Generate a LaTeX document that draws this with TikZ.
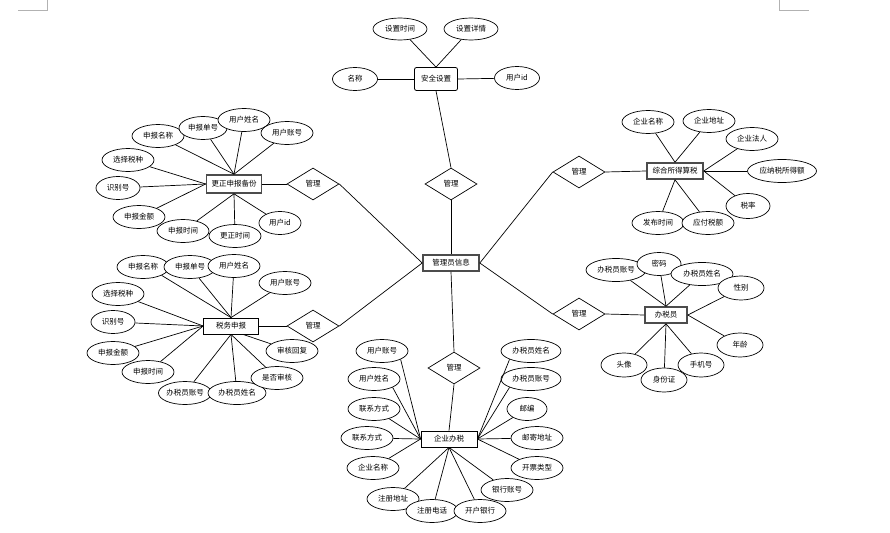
\documentclass[tikz,border=0pt]{standalone}
\usepackage{fontspec}
\setmainfont{Noto Sans CJK SC}
\usetikzlibrary{shapes.geometric}

\tikzset{
  attr/.style={ellipse,draw,line width=0.7pt,fill=white,inner sep=0pt,minimum width=52pt,minimum height=23pt},
  ent/.style={draw,line width=0.8pt,fill=white,inner sep=0pt,minimum width=56pt,minimum height=16pt},
  bent/.style={ent,draw=black!70,line width=1.6pt},
  rel/.style={diamond,draw,line width=0.7pt,fill=white,inner sep=0pt,minimum width=52pt,minimum height=32pt},
  link/.style={line width=0.7pt}
}

\begin{document}
\begin{tikzpicture}[x=1pt,y=-1pt,font=\fontsize{7.5}{9}\selectfont,every edge/.style={draw,link}]
  \useasboundingbox (0,0) rectangle (890,532);
  % page corner marks
  \draw[black!30] (18,10) -- (47,10) -- (47,0);
  \draw[black!30] (779,0) -- (779,10) -- (809,10);

  % centre
  \node[bent] at (451,263) (admin) {管理员信息};
  \node[rel] at (451,184) (m1) {管理};
  \node[rel] at (313,184) (m2) {管理};
  \node[rel] at (313,326) (m3) {管理};
  \node[rel] at (579,172) (m4) {管理};
  \node[rel] at (579,314) (m5) {管理};
  \node[rel] at (454,368) (m6) {管理};

  % 安全设置
  \node[ent,rounded corners=2pt,minimum width=43pt,minimum height=23pt] at (436,79) (aq) {安全设置};
  \node[attr,minimum width=54pt,minimum height=22pt] at (400,29) (aq1) {设置时间};
  \node[attr,minimum width=54pt,minimum height=22pt] at (471,29) (aq2) {设置详情};
  \node[attr,minimum width=45pt] at (355,79) (aq3) {名称};
  \node[attr,minimum width=45pt] at (517,78) (aq4) {用户id};
  \path (aq.north) edge (aq1) edge (aq2);
  \path (aq.west) edge (aq3);
  \path (aq.east) edge (aq4);
  \path (aq.south) edge (m1.north);
  \path (m1.south) edge (admin.north);

  % 更正申报备份
  \node[bent,minimum width=55pt,minimum height=18pt] at (234,184) (gz) {更正申报备份};
  \node[attr] at (158,136) (a1) {申报名称};
  \node[attr,minimum width=48pt] at (203,128) (a2) {申报单号};
  \node[attr] at (244,120) (a3) {用户姓名};
  \node[attr] at (287,133) (a4) {用户账号};
  \node[attr] at (128,160) (a5) {选择税种};
  \node[attr,minimum width=44pt] at (118,188) (a6) {识别号};
  \node[attr] at (139,217) (a7) {申报金额};
  \node[attr] at (183,231) (a8) {申报时间};
  \node[attr] at (235,236) (a9) {更正时间};
  \node[attr,minimum width=42pt] at (280,223) (a10) {用户id};
  \path (gz.north) edge (a1) edge (a2) edge (a3) edge (a4);
  \path (gz.west) edge (a5) edge (a6) edge (a7);
  \path (gz.south) edge (a8) edge (a9) edge (a10);
  \path (gz.east) edge (m2.west);
  \path (m2.east) edge (admin.west);

  % 税务申报
  \node[ent,minimum width=55pt] at (231,326) (sw) {税务申报};
  \node[attr] at (143,267) (b1) {申报名称};
  \node[attr] at (190,267) (b2) {申报单号};
  \node[attr] at (234,266) (b3) {用户姓名};
  \node[attr] at (285,283) (b4) {用户账号};
  \node[attr] at (118,294) (b5) {选择税种};
  \node[attr,minimum width=44pt] at (113,322) (b6) {识别号};
  \node[attr] at (113,353) (b7) {申报金额};
  \node[attr] at (148,372) (b8) {申报时间};
  \node[attr] at (185,393) (b9) {办税员账号};
  \node[attr,minimum width=58pt] at (237,393) (b10) {办税员姓名};
  \node[attr] at (277,378) (b11) {是否审核};
  \node[attr] at (292,351) (b12) {审核回复};
  \path (sw.north) edge (b1.south east) edge (b2) edge (b3) edge (b4);
  \path (sw.west) edge (b5) edge (b6) edge (b7) edge (b8);
  \path (sw.south) edge (b9) edge (b10) edge (b11);
  \path ([xshift=12pt]sw.south) edge (b12);
  \path (sw.east) edge (m3.west);
  \path (m3.east) edge (admin.west);

  % 综合所得算税
  \node[bent] at (675,171) (zh) {综合所得算税};
  \node[attr] at (648,122) (c1) {企业名称};
  \node[attr] at (709,121) (c2) {企业地址};
  \node[attr] at (752,139) (c3) {企业法人};
  \node[attr,minimum width=69pt] at (782,171) (c4) {应纳税所得额};
  \node[attr,minimum width=44pt,minimum height=25pt] at (748,206) (c5) {税率};
  \node[attr] at (658,223) (c6) {发布时间};
  \node[attr] at (708,223) (c7) {应付税额};
  \path (zh.north) edge (c1) edge (c2);
  \path (zh.east) edge (c3) edge (c4) edge (c5);
  \path (zh.south) edge (c6) edge (c7);
  \path (admin.east) edge (m4.west);
  \path (m4.east) edge (zh.west);

  % 办税员
  \node[bent,minimum width=42pt] at (666,315) (bs) {办税员};
  \node[attr,minimum width=60pt] at (616,270) (d1) {办税员账号};
  \node[attr,minimum width=44pt] at (659,264) (d2) {密码};
  \node[attr,minimum width=62pt] at (702,274) (d3) {办税员姓名};
  \node[attr,minimum width=46pt,minimum height=24pt] at (741,288) (d4) {性别};
  \node[attr,minimum width=46pt,minimum height=24pt] at (740,345) (d5) {年龄};
  \node[attr,minimum width=46pt,minimum height=24pt] at (701,365) (d6) {手机号};
  \node[attr,minimum width=46pt,minimum height=24pt] at (664,380) (d7) {身份证};
  \node[attr,minimum width=46pt,minimum height=24pt] at (624,365) (d8) {头像};
  \path (bs.north) edge (d1) edge (d2) edge (d3);
  \path (bs.east) edge (d4) edge (d5);
  \path (bs.south) edge (d6) edge (d7) edge (d8);
  \path (admin.east) edge (m5.west);
  \path (m5.east) edge (bs.west);

  % 企业办税
  \node[ent] at (449,439) (qy) {企业办税};
  \node[attr] at (382,351) (e1) {用户账号};
  \node[attr] at (374,379) (e2) {用户姓名};
  \node[attr] at (374,409) (e3) {联系方式};
  \node[attr] at (367,438) (e4) {联系方式};
  \node[attr] at (373,468) (e5) {企业名称};
  \node[attr] at (393,499) (e6) {注册地址};
  \node[attr] at (432,511) (e7) {注册电话};
  \node[attr] at (480,511) (e8) {开户银行};
  \node[attr] at (507,490) (e9) {银行账号};
  \node[attr] at (537,468) (e10) {开票类型};
  \node[attr] at (537,438) (e11) {邮寄地址};
  \node[attr,minimum width=40pt] at (527,409) (e12) {邮编};
  \node[attr,minimum width=60pt] at (531,379) (e13) {办税员账号};
  \node[attr,minimum width=60pt] at (531,351) (e14) {办税员姓名};
  \path (qy.west) edge (e1.south east) edge (e2.south east) edge (e3) edge (e4) edge (e5);
  \path (qy.south) edge (e6) edge (e7) edge (e8) edge (e9);
  \path (qy.east) edge (e10) edge (e11) edge (e12) edge (e13.south west) edge (e14.south west);
  \path (admin.south) edge (m6.north);
  \path (m6.south) edge (qy.north);
\end{tikzpicture}
\end{document}
